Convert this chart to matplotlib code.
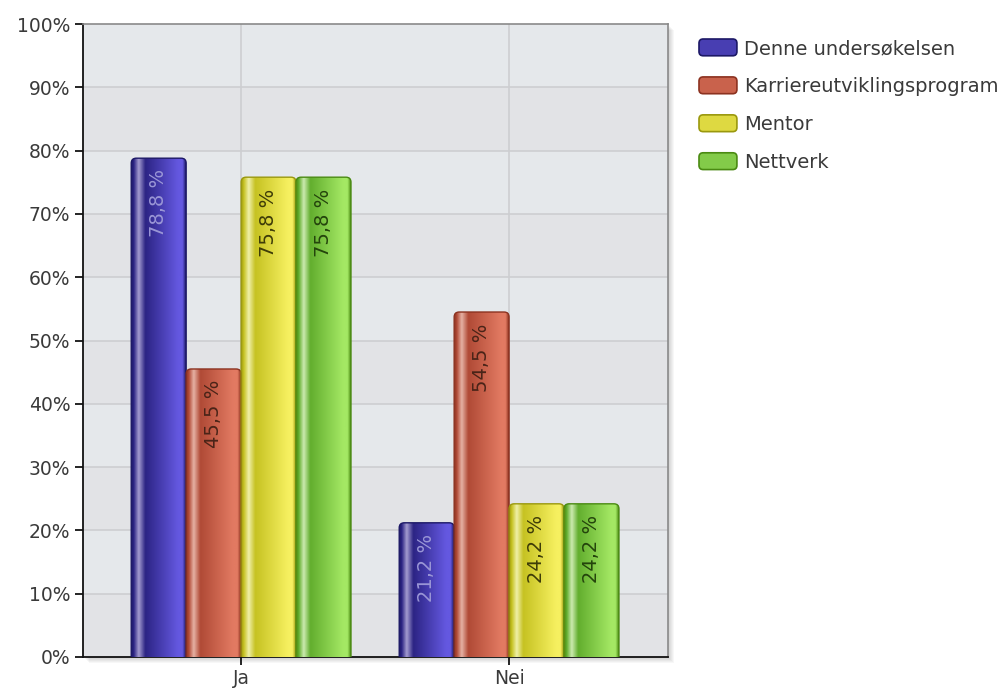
import numpy as np
import matplotlib.pyplot as plt
from matplotlib.colors import LinearSegmentedColormap, to_rgb
from matplotlib.patches import FancyBboxPatch, Patch, Rectangle
from matplotlib.legend_handler import HandlerPatch

# ---- data ----
categories = ['Ja', 'Nei']
series_names = ['Denne undersøkelsen', 'Karriereutviklingsprogram', 'Mentor', 'Nettverk']
denne = [78.8, 21.2]
karriere = [45.5, 54.5]
mentor = [75.8, 24.2]
nettverk = [75.8, 24.2]
yticks = [0, 10, 20, 30, 40, 50, 60, 70, 80, 90, 100]

# ---- styling: edge, highlight, dark, bright for each series ----
edge_c = ['#1c1866', '#8c3220', '#9a980e', '#4a8a12']
high_c = ['#a49cd0', '#e6b2a4', '#f0f0a8', '#cceab0']
dark_c = ['#2c2484', '#b04a36', '#c6c222', '#62ae2e']
bright_c = ['#6458e0', '#e27a62', '#f6f060', '#a4e864']
label_c = ['#9a96d6', '#4a2418', '#3e3c08', '#24440c']

FIG_W, FIG_H = 1008, 693
fig = plt.figure(figsize=(FIG_W / 100, FIG_H / 100), dpi=100)
ax_l, ax_b, ax_w, ax_h = 83, 36, 585, 633

# soft drop shadow behind the plot area
for k in range(1, 7):
    fig.patches.append(Rectangle(((ax_l + k) / FIG_W, (ax_b - k) / FIG_H),
                                 ax_w / FIG_W, ax_h / FIG_H,
                                 transform=fig.transFigure, facecolor='#000000',
                                 alpha=0.03, edgecolor='none', zorder=0))

ax = fig.add_axes([ax_l / FIG_W, ax_b / FIG_H, ax_w / FIG_W, ax_h / FIG_H])
ax.set_zorder(1)

xlim = (-0.59, 1.593)
ylim = (0, 100)

# alternating background bands
for i in range(10):
    ax.axhspan(i * 10, (i + 1) * 10, color='#e2e3e6' if i % 2 == 0 else '#e5e8eb',
               zorder=0, lw=0)
for y in yticks[1:-1]:
    ax.axhline(y, color='#cdced1', lw=1.2, zorder=1)
x = np.arange(len(categories))
for xc in x:
    ax.axvline(xc, color='#cdced1', lw=1.2, zorder=1)

px_x = ax_w / (xlim[1] - xlim[0])
px_y = ax_h / (ylim[1] - ylim[0])
radius = 5 / px_x
asp = px_x / px_y

w = 0.205
all_vals = [denne, karriere, mentor, nettverk]
for i, vals in enumerate(all_vals):
    bars = ax.bar(x + (i - 1.5) * w, vals, w, color=bright_c[i], zorder=2)
    cmap = LinearSegmentedColormap.from_list(
        'bar%d' % i,
        [(0.0, edge_c[i]), (0.05, dark_c[i]), (0.14, high_c[i]), (0.26, dark_c[i]),
         (0.86, bright_c[i]), (0.94, bright_c[i]), (1.0, edge_c[i])])
    grad = np.linspace(0, 1, 256)[np.newaxis, :]
    for rect, v in zip(bars, vals):
        rect.set_visible(False)
        x0, bw = rect.get_x(), rect.get_width()
        shape = FancyBboxPatch((x0, -3), bw, v + 3,
                               boxstyle='round,pad=0,rounding_size=%f' % radius,
                               mutation_aspect=asp, facecolor='none',
                               edgecolor=edge_c[i], lw=1.0, zorder=4)
        ax.add_patch(shape)
        im = ax.imshow(grad, extent=(x0, x0 + bw, -3, v), aspect='auto',
                       cmap=cmap, zorder=3, interpolation='bilinear')
        im.set_clip_path(shape)
        ax.annotate(('%.1f %%' % v).replace('.', ','), xy=(x0 + bw / 2, v),
                    xytext=(0, -8), textcoords='offset points', rotation=90,
                    ha='center', va='top', fontsize=14, color=label_c[i], zorder=5)

ax.set_xlim(*xlim)
ax.set_ylim(*ylim)
ax.set_aspect('auto')
ax.set_xticks(x)
ax.set_xticklabels(categories)
ax.set_yticks(yticks)
ax.set_yticklabels(['%d%%' % t for t in yticks])
ax.tick_params(axis='both', direction='out', length=6, width=1.2, colors='#000000',
               labelcolor='#3a3a3a', labelsize=13.5, pad=3)
for s in ['left', 'bottom']:
    ax.spines[s].set_color('#111111')
    ax.spines[s].set_linewidth(1.3)
for s in ['top', 'right']:
    ax.spines[s].set_color('#8a8a8a')
    ax.spines[s].set_linewidth(1.2)


def rounded_swatch(legend, orig_handle, xdescent, ydescent, width, height, fontsize):
    return FancyBboxPatch((-xdescent, -ydescent), width, height,
                          boxstyle='round,pad=0,rounding_size=3')


def blend(c1, c2):
    a, b = np.array(to_rgb(c1)), np.array(to_rgb(c2))
    return tuple((a + b) / 2)


handles = [Patch(facecolor=blend(dark_c[i], bright_c[i]), edgecolor=edge_c[i], lw=1.2)
           for i in range(len(series_names))]
fig.legend(handles, series_names, loc='upper left',
           bbox_to_anchor=(699 / FIG_W, 1 - 39 / FIG_H),
           frameon=False, fontsize=14, borderpad=0, borderaxespad=0,
           handlelength=1.95, handleheight=0.95, handletextpad=0.35,
           labelspacing=0.97, labelcolor='#3a3a3a',
           handler_map={Patch: HandlerPatch(patch_func=rounded_swatch)})

fig.savefig('out.png', dpi=100)
